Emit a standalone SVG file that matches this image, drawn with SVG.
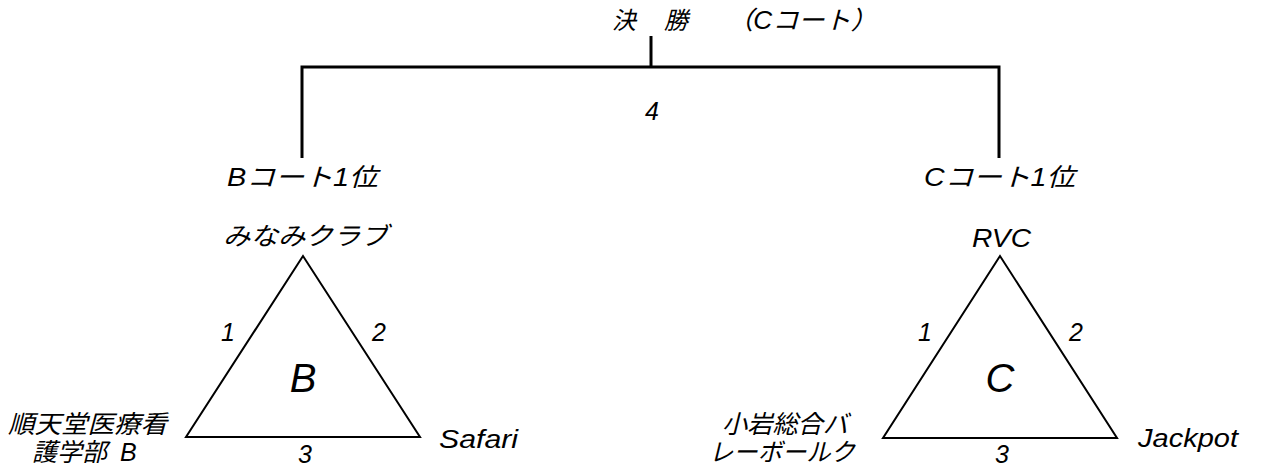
<svg xmlns="http://www.w3.org/2000/svg" width="1267" height="470" viewBox="0 0 1267 470">
<style>
.t{font-family:"Liberation Sans","Noto Sans CJK JP",sans-serif;font-style:italic;font-size:25px;fill:#000}
.j{font-family:"Noto Sans CJK JP",sans-serif;font-style:italic;font-size:24px;fill:#000}
.big{font-family:"Liberation Sans",sans-serif;font-style:italic;font-size:40px;fill:#000}
.n{font-family:"Liberation Sans",sans-serif;font-style:italic;font-size:25px;fill:#000}
.br{fill:none;stroke:#000;stroke-width:3}
.tri{fill:#fff;stroke:#000;stroke-width:2;stroke-linejoin:miter}
</style>
<g id="connectors">
<polyline class="br" points="302,158 302,67 999,67 999,158"/>
<line class="br" x1="651" y1="36" x2="651" y2="67"/>
</g>
<g id="final">
<text class="j" x="612" y="29">決</text>
<text class="j" x="664" y="29">勝</text>
<text class="t" x="727" y="29" textLength="150" lengthAdjust="spacingAndGlyphs">（Cコート）</text>
<text class="n" x="652" y="120" text-anchor="middle">4</text>
</g>
<g id="b-first">
<text class="t" x="227" y="186" textLength="151" lengthAdjust="spacingAndGlyphs">Bコート1位</text>
</g>
<g id="c-first">
<text class="t" x="924" y="186" textLength="151" lengthAdjust="spacingAndGlyphs">Cコート1位</text>
</g>
<g id="court-b">
<polygon class="tri" points="303,256 186,437 420,437"/>
<text class="big" x="303" y="392" text-anchor="middle">B</text>
<text class="n" x="228" y="341" text-anchor="middle">1</text>
<text class="n" x="379" y="341" text-anchor="middle">2</text>
<text class="n" x="305" y="463" text-anchor="middle">3</text>
</g>
<g id="team-minami"><text class="t" x="223" y="245" textLength="165" lengthAdjust="spacingAndGlyphs">みなみクラブ</text></g>
<g id="team-juntendo">
<text class="t" x="8" y="433" textLength="159" lengthAdjust="spacingAndGlyphs">順天堂医療看</text>
<text class="t" x="32" y="461">護学部 <tspan dx="6">B</tspan></text>
</g>
<g id="team-safari"><text class="t" x="439" y="448" textLength="79" lengthAdjust="spacingAndGlyphs">Safari</text></g>
<g id="court-c">
<polygon class="tri" points="1000,256 883,438 1117,438"/>
<text class="big" x="1000" y="392" text-anchor="middle">C</text>
<text class="n" x="925" y="341" text-anchor="middle">1</text>
<text class="n" x="1076" y="341" text-anchor="middle">2</text>
<text class="n" x="1002" y="463" text-anchor="middle">3</text>
</g>
<g id="team-rvc"><text class="t" x="972" y="247" textLength="59" lengthAdjust="spacingAndGlyphs">RVC</text></g>
<g id="team-koiwa">
<text class="t" x="722" y="433" textLength="126" lengthAdjust="spacingAndGlyphs">小岩総合バ</text>
<text class="t" x="709" y="461" textLength="146" lengthAdjust="spacingAndGlyphs">レーボールク</text>
</g>
<g id="team-jackpot"><text class="t" x="1138" y="447" textLength="100" lengthAdjust="spacingAndGlyphs">Jackpot</text></g>
</svg>
